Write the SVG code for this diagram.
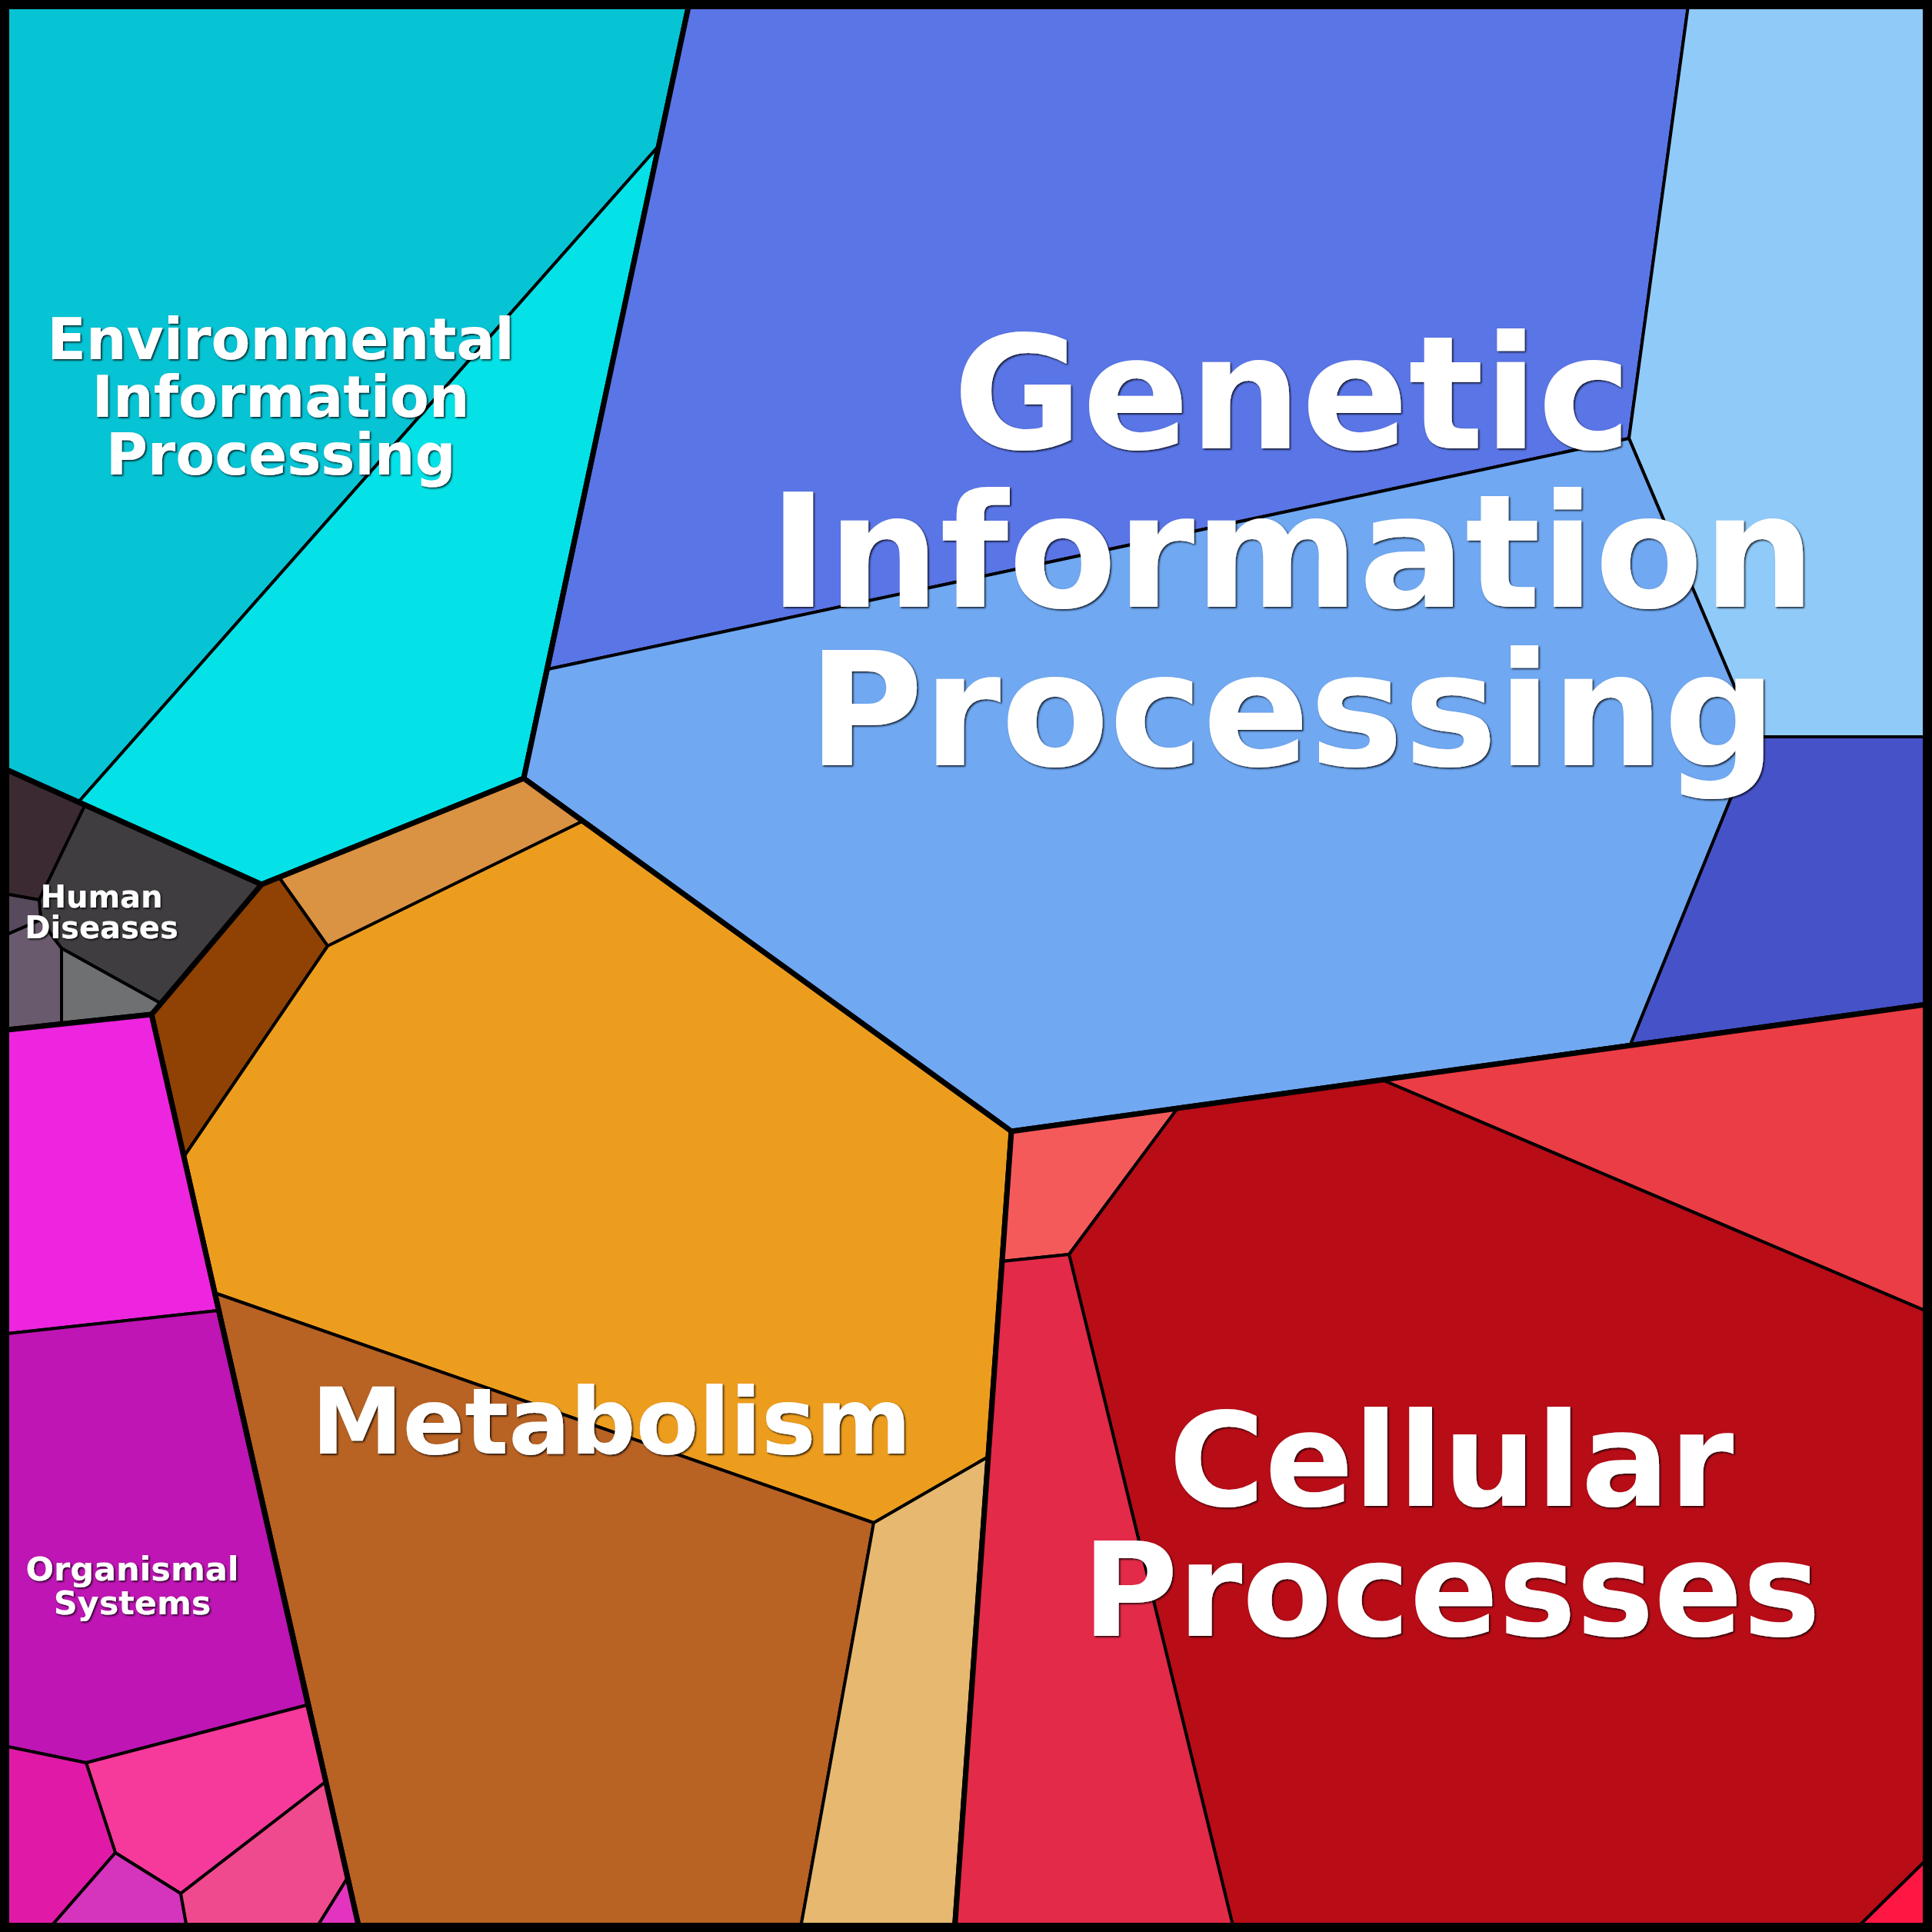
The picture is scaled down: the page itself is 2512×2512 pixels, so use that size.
<svg xmlns="http://www.w3.org/2000/svg" width="2512" height="2512" viewBox="0 0 2512 2512">
<style>
.c{stroke:#000;stroke-width:4;stroke-linejoin:round}
.b{fill:none;stroke:#000;stroke-width:7;stroke-linejoin:round}
.t{font-family:"DejaVu Sans","Liberation Sans",sans-serif;font-weight:bold;fill:#fff;text-anchor:middle;filter:url(#sh)}
</style>
<defs>
<filter id="sh" x="-5%" y="-5%" width="110%" height="110%">
<feDropShadow dx="1.6" dy="1.6" stdDeviation="0.8" flood-color="#000" flood-opacity="0.85"/>
</filter>
</defs>
<g id="env">
<polygon class="c" fill="#06C4D4" points="0,0 897,0 857,189 101,1044 0,997"/>
<polygon class="c" fill="#04E2E8" points="857,189 681,1012 340,1150 101,1044"/>
<polygon class="b" points="0,0 897,0 681,1012 340,1150 0,997"/>
</g>
<g id="genetic">
<polygon class="c" fill="#5A75E6" points="897,0 2196,0 2118,570 713,870"/>
<polygon class="c" fill="#90CAF9" points="2196,0 2512,0 2512,958 2283,958 2118,570"/>
<polygon class="c" fill="#70A8F2" points="713,870 2118,570 2283,958 2120,1358 1315,1471 681,1012"/>
<polygon class="c" fill="#4652C8" points="2283,958 2512,958 2512,1305 2120,1358"/>
<polygon class="b" points="897,0 2512,0 2512,1305 1315,1471 681,1012"/>
</g>
<g id="metabolism">
<polygon class="c" fill="#DA9243" points="340,1150 681,1012 757,1068 426,1230 363,1141"/>
<polygon class="c" fill="#8F4203" points="197,1319 340,1150 363,1141 426,1230 237,1507"/>
<polygon class="c" fill="#ED9D1E" points="426,1230 757,1068 1315,1471 1285,1894 1136,1980 279,1681 237,1507"/>
<polygon class="c" fill="#B86223" points="279,1681 1136,1980 1040,2512 468,2512"/>
<polygon class="c" fill="#E6B870" points="1136,1980 1285,1894 1241,2512 1040,2512"/>
<polygon class="b" points="681,1012 1315,1471 1241,2512 468,2512 197,1319 340,1150"/>
</g>
<g id="cellular">
<polygon class="c" fill="#F55A5A" points="1315,1471 1531,1441 1390,1631 1303,1640"/>
<polygon class="c" fill="#EB3D45" points="1797,1404 2512,1305 2512,1708"/>
<polygon class="c" fill="#B80C17" points="1531,1441 1797,1404 2512,1708 2512,2411 2409,2512 1605,2512 1390,1631"/>
<polygon class="c" fill="#E32A48" points="1303,1640 1390,1631 1605,2512 1241,2512"/>
<polygon class="c" fill="#FF1744" points="2409,2512 2512,2411 2512,2512"/>
<polygon class="b" points="1315,1471 2512,1305 2512,2512 1241,2512"/>
</g>
<g id="human-diseases">
<polygon class="c" fill="#3C2A33" points="0,997 110,1048 51,1170 0,1161"/>
<polygon class="c" fill="#403D40" points="110,1048 340,1150 208,1304 80,1233 70,1220 53,1196 51,1170"/>
<polygon class="c" fill="#574A5C" points="0,1161 51,1170 53,1196 0,1219"/>
<polygon class="c" fill="#6A5A6E" points="0,1219 53,1196 70,1220 80,1233 80,1331 0,1340"/>
<polygon class="c" fill="#6F7071" points="80,1233 208,1304 197,1319 80,1331"/>
<polygon class="b" points="0,997 340,1150 197,1319 0,1340"/>
</g>
<g id="organismal-systems">
<polygon class="c" fill="#EE25DE" points="0,1340 197,1319 283,1704 0,1735"/>
<polygon class="c" fill="#BE15B4" points="0,1735 283,1704 399,2217 112,2292 0,2269"/>
<polygon class="c" fill="#F53A9B" points="112,2292 399,2217 423,2317 235,2462 150,2409"/>
<polygon class="c" fill="#E01AA7" points="0,2269 112,2292 150,2409 60,2512 0,2512"/>
<polygon class="c" fill="#D534BD" points="150,2409 235,2462 244,2512 60,2512"/>
<polygon class="c" fill="#EF4A8E" points="235,2462 423,2317 451,2443 408,2512 244,2512"/>
<polygon class="c" fill="#E334BF" points="451,2443 468,2512 408,2512"/>
<polygon class="b" points="0,1340 197,1319 468,2512 0,2512"/>
</g>
<rect id="frame" x="6" y="6" width="2500" height="2500" fill="none" stroke="#000" stroke-width="12"/>
<g id="labels">
<text class="t" font-size="74" x="365"><tspan x="365" y="467">Environmental</tspan><tspan x="365" y="542">Information</tspan><tspan x="365" y="617">Processing</tspan></text>
<text class="t" font-size="205" x="1680"><tspan x="1680" y="583">Genetic</tspan><tspan x="1680" y="789">Information</tspan><tspan x="1680" y="995">Processing</tspan></text>
<text class="t" font-size="119" x="795" y="1890">Metabolism</text>
<text class="t" font-size="170" x="1887"><tspan x="1887" y="1958">Cellular</tspan><tspan x="1887" y="2127">Processes</tspan></text>
<text class="t" font-size="40" x="132"><tspan x="132" y="1180">Human</tspan><tspan x="132" y="1220">Diseases</tspan></text>
<text class="t" font-size="43" x="172"><tspan x="172" y="2055">Organismal</tspan><tspan x="172" y="2099">Systems</tspan></text>
</g>
</svg>
